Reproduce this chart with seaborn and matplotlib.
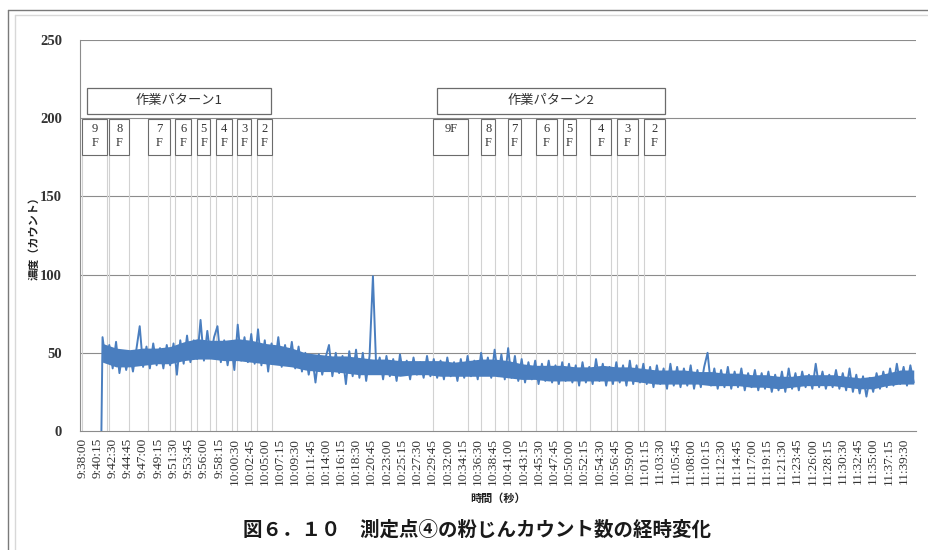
import matplotlib
matplotlib.use("Agg")
import matplotlib.pyplot as plt
from matplotlib.patches import Rectangle
from matplotlib.lines import Line2D
import seaborn as sns
import pandas as pd

# ---- measurement data -------------------------------------------------
axis_origin = "09:38:00"          # first category on the time axis
startup_time = "09:40:50"         # counter switched on
startup_value = 0
reading_start = "09:41:00"        # regular readings, one every 30 s
reading_interval_s = 30

counts_0941 = [60, 44, 55, 40, 57, 37, 51, 39, 50, 38, 52, 67, 41, 54, 40, 56, 42, 53, 40, 55]
counts_0951 = [42, 56, 36, 58, 43, 61, 44, 58, 46, 71, 45, 64, 47, 60, 67, 44, 58, 42, 56, 39]
counts_1001 = [68, 45, 60, 44, 62, 43, 65, 42, 58, 38, 56, 43, 60, 41, 55, 42, 57, 40, 54, 38]
counts_1011 = [50, 36, 48, 31, 49, 36, 47, 55, 35, 50, 37, 48, 30, 51, 35, 52, 34, 50, 32, 48]
counts_1021 = [99, 38, 47, 33, 48, 35, 46, 32, 49, 36, 45, 33, 47, 36, 44, 34, 48, 35, 46, 34]
counts_1031 = [45, 33, 47, 35, 44, 32, 46, 34, 48, 35, 45, 33, 50, 36, 47, 34, 52, 35, 49, 33]
counts_1041 = [53, 34, 48, 32, 46, 31, 44, 33, 45, 30, 43, 32, 45, 31, 42, 30, 44, 32, 43, 31]
counts_1051 = [42, 29, 44, 31, 41, 30, 46, 32, 43, 29, 41, 30, 44, 31, 42, 29, 45, 30, 42, 31]
counts_1101 = [43, 30, 41, 28, 42, 30, 40, 27, 43, 29, 41, 28, 40, 29, 42, 27, 39, 28, 41, 50]
counts_1111 = [29, 40, 27, 39, 28, 41, 27, 38, 28, 40, 26, 37, 28, 39, 26, 37, 27, 38, 25, 36]
counts_1121 = [26, 38, 25, 40, 27, 37, 26, 38, 28, 36, 27, 43, 28, 38, 27, 36, 28, 39, 27, 37]
counts_1131 = [26, 40, 25, 36, 24, 35, 22, 34, 25, 37, 27, 38, 28, 40, 29, 43, 30, 41, 29, 42, 31]

# bulk of the second-by-second fluctuation, read every 2 minutes from 09:41
band_interval_s = 120
band_lower = [44, 41, 41, 42, 43, 43, 45, 46, 46, 45, 45, 44, 43, 42, 41, 39, 38, 38, 37, 36,
              36, 36, 35, 36, 36, 35, 35, 35, 35, 35, 34, 33, 33, 32, 32, 32, 32, 32, 32, 32,
              31, 30, 30, 30, 30, 29, 29, 29, 28, 28, 27, 28, 29, 29, 29, 28, 27, 27, 29, 30, 30]
band_upper = [56, 53, 52, 53, 53, 54, 57, 59, 58, 58, 59, 58, 56, 55, 53, 50, 49, 48, 48, 47,
              46, 46, 45, 45, 45, 45, 44, 45, 46, 46, 45, 43, 42, 42, 42, 41, 41, 42, 41, 41,
              40, 39, 39, 39, 38, 38, 37, 37, 36, 36, 35, 35, 36, 36, 36, 35, 34, 35, 37, 39, 39]

# work pattern periods (floor, start, end)
pattern_names = ["作業パターン1", "作業パターン2"]
pattern_starts = ["09:38:44", "10:30:32"]
pattern_ends = ["10:05:58", "11:04:08"]

floors_1 = ["9F", "8F", "7F", "6F", "5F", "4F", "3F", "2F"]
floor_starts_1 = ["09:38:00", "09:42:00", "09:47:46", "09:51:46", "09:55:01", "09:57:50", "10:00:56", "10:03:54"]
floor_ends_1 = ["09:41:42", "09:44:57", "09:51:01", "09:54:08", "09:56:57", "10:00:12", "10:03:01", "10:06:03"]

floors_2 = ["9F", "8F", "7F", "6F", "5F", "4F", "3F", "2F"]
floor_starts_2 = ["10:29:57", "10:37:00", "10:40:57", "10:45:09", "10:49:05", "10:53:08", "10:57:05", "11:01:02"]
floor_ends_2 = ["10:35:08", "10:39:07", "10:42:56", "10:48:12", "10:51:04", "10:56:15", "11:00:11", "11:04:14"]

y_ticks = [0, 50, 100, 150, 200, 250]
tick_step_s = 135
last_tick_label = "11:39:30"
axis_end = "11:41:20"


def secs(hms):
    """Seconds elapsed since the first category of the time axis."""
    h, m, s = (int(p) for p in hms.split(":"))
    h0, m0, s0 = (int(p) for p in axis_origin.split(":"))
    return (h * 3600 + m * 60 + s) - (h0 * 3600 + m0 * 60 + s0)


def hms(sec):
    base = secs("00:00:00") * -1 + sec
    return f"{base // 3600}:{(base % 3600) // 60:02d}:{base % 60:02d}"


counts = (counts_0941 + counts_0951 + counts_1001 + counts_1011 + counts_1021 + counts_1031
          + counts_1041 + counts_1051 + counts_1101 + counts_1111 + counts_1121 + counts_1131)
t0 = secs(reading_start)
df = pd.DataFrame({
    "t": [secs(startup_time)] + [t0 + i * reading_interval_s for i in range(len(counts))],
    "count": [startup_value] + counts,
})
band_t = [t0 + i * band_interval_s for i in range(len(band_lower))]

# ---- styling ---------------------------------------------------------
sns.set_style("white")
plt.rcParams["font.family"] = ["Liberation Serif", "DejaVu Serif"]
jp = ["Noto Sans CJK JP", "DejaVu Sans"]
serif = ["Liberation Serif", "DejaVu Serif"]

fig = plt.figure(figsize=(9.29, 5.5), dpi=100)
ax = fig.add_axes([80 / 929, 1 - 431 / 550, 836 / 929, 391 / 550])

line_blue = "#4A7EBF"
grid_gray = "#8c8c8c"
event_gray = "#d2d2d2"
box_edge = "#6b6b6b"

# horizontal grid
for v in y_ticks[1:]:
    ax.axhline(v, color=grid_gray, lw=0.8, zorder=1)

# floor boundary lines and boxes
floor_box_lo, floor_box_hi = 176.5, 199.5
pattern_box_lo, pattern_box_hi = 203.0, 219.5
for floors, starts, ends in [(floors_1, floor_starts_1, floor_ends_1),
                             (floors_2, floor_starts_2, floor_ends_2)]:
    for k, (fl, s, e) in enumerate(zip(floors, starts, ends)):
        a, b = secs(s), secs(e)
        for xv in (a, b):
            ax.plot([xv, xv], [0, floor_box_lo], color=event_gray, lw=0.8, zorder=1)
        ax.add_patch(Rectangle((a, floor_box_lo), b - a, floor_box_hi - floor_box_lo,
                               facecolor="white", edgecolor=box_edge, lw=0.8,
                               zorder=3, clip_on=False))
        if floors is floors_2 and k == 0:
            ax.text((a + b) / 2, floor_box_hi - 2.5, fl, ha="center", va="top",
                    fontsize=9, family=serif, color="#333333", zorder=4)
        else:
            ax.text((a + b) / 2, (floor_box_lo + floor_box_hi) / 2 + 0.5,
                    fl[0] + "\n" + fl[1], ha="center", va="center",
                    fontsize=9, family=serif, color="#333333", linespacing=1.25, zorder=4)

for name, s, e in zip(pattern_names, pattern_starts, pattern_ends):
    a, b = secs(s), secs(e)
    ax.add_patch(Rectangle((a, pattern_box_lo), b - a, pattern_box_hi - pattern_box_lo,
                           facecolor="white", edgecolor=box_edge, lw=0.9,
                           zorder=3, clip_on=False))
    ax.text((a + b) / 2, (pattern_box_lo + pattern_box_hi) / 2, name,
            ha="center", va="center", fontsize=9.5, family=jp, color="#333333", zorder=4)

# dust count series: dense fluctuation band plus the individual readings
ax.fill_between(band_t, band_lower, band_upper, color=line_blue, lw=0, zorder=4)
sns.lineplot(data=df, x="t", y="count", ax=ax, color=line_blue, lw=1.4,
             estimator=None, sort=False, zorder=5)

ax.set_xlim(-20, secs(axis_end))
ax.set_ylim(0, 250)

major = list(range(0, secs(last_tick_label) + 1, tick_step_s))
minor = list(range(0, secs(axis_end), tick_step_s // 3))
ax.set_xticks(major)
ax.set_xticklabels([hms(m) for m in major], rotation=90, fontsize=9.5,
                   family=serif, color="#333333")
ax.set_xticks(minor, minor=True)
ax.set_yticks(y_ticks)
ax.set_yticklabels([str(v) for v in y_ticks], fontsize=10.5, family=serif,
                   color="#333333", fontweight="bold")
ax.tick_params(axis="x", which="both", direction="out", length=3, width=0.7,
               color=grid_gray, pad=2)
ax.tick_params(axis="y", direction="out", length=5, width=0.7, color=grid_gray, pad=8)

for side in ("top", "right"):
    ax.spines[side].set_visible(False)
for side in ("left", "bottom"):
    ax.spines[side].set_color(grid_gray)
    ax.spines[side].set_linewidth(0.8)

ax.set_xlabel("時間（秒）", family=jp, fontsize=8, fontweight="bold", color="#222222")
ax.set_ylabel("濃度（カウント）", family=jp, fontsize=8, fontweight="bold", color="#222222")
ax.xaxis.set_label_coords(0.5, -0.155)
ax.yaxis.set_label_coords(-0.047, 0.5)

# chart frame
fig.add_artist(Line2D([8 / 929, 8 / 929], [0, 1 - 10 / 550], color="#7a7a7a", lw=1.0))
fig.add_artist(Line2D([8 / 929, 1], [1 - 10 / 550, 1 - 10 / 550], color="#7a7a7a", lw=1.0))
fig.add_artist(Line2D([15 / 929, 15 / 929], [0, 1 - 15 / 550], color="#d8d8d8", lw=1.0))
fig.add_artist(Line2D([15 / 929, 1], [1 - 15 / 550, 1 - 15 / 550], color="#d8d8d8", lw=1.0))

fig.text(477 / 929, 1 - 530 / 550, "図６．１０　測定点④の粉じんカウント数の経時変化",
         ha="center", va="center", fontsize=14, fontweight="bold", family=jp,
         color="#1a1a1a")

fig.savefig("out.png", dpi=100)
